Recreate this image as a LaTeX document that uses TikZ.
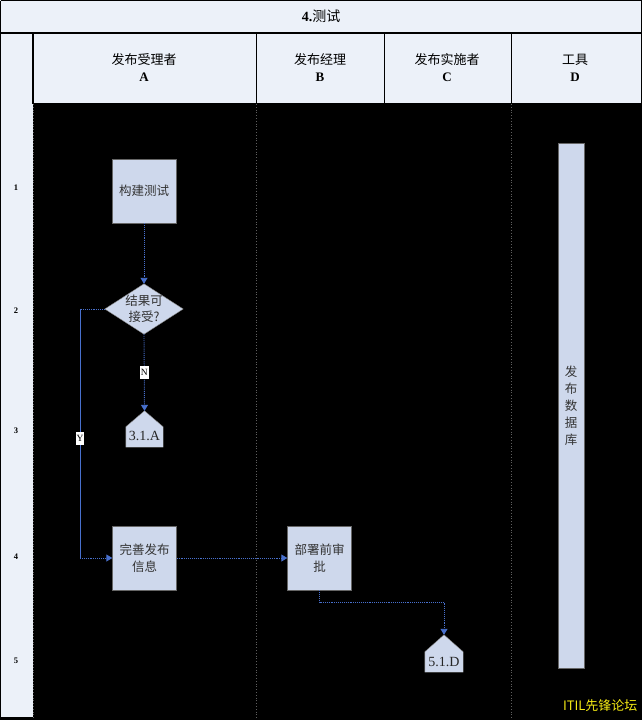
\documentclass[tikz,border=0pt]{standalone}
\usepackage{fontspec}
\setmainfont{Liberation Serif}
\newfontfamily\cjk{Noto Sans CJK SC}
\usetikzlibrary{arrows.meta}
\definecolor{bgpale}{RGB}{236,241,249}
\definecolor{boxfill}{RGB}{206,216,236}
\definecolor{flowblue}{RGB}{72,112,205}
\definecolor{lanegray}{RGB}{95,95,95}
\definecolor{wmyellow}{RGB}{245,235,20}
\begin{document}
\begin{tikzpicture}[x=1pt,y=-1pt,
  procbox/.style={draw=black!60, fill=boxfill, minimum width=64pt, minimum height=64pt,
    inner sep=0pt, align=center, font=\cjk\fontsize{12.5}{17}\selectfont, text=black!80},
  pentfill/.style={fill=boxfill, draw=black!50, line width=0.4pt},
  flow/.style={draw=flowblue, densely dotted, line width=0.9pt, -{Triangle[width=7pt,length=6pt]}},
  flowline/.style={draw=flowblue, densely dotted, line width=0.9pt},
  flowlabel/.style={fill=white, inner sep=1pt, minimum height=13pt, font=\fontsize{9.5}{10}\selectfont, text=black},
  headtxt/.style={align=center, font=\fontsize{13}{17}\selectfont},
  rowtxt/.style={font=\bfseries\fontsize{8.5}{9}\selectfont},
  lanedot/.style={draw=lanegray, dotted, line width=0.8pt},
  frame/.style={draw=black, line width=1.2pt}]
\useasboundingbox (0,0) rectangle (642,720);
% backgrounds
\fill[black] (0,0) rectangle (642,720);
\fill[bgpale] (0,0) rectangle (642,104);
\fill[bgpale] (0,0) rectangle (33,718);
% frame lines
\draw[frame] (0.6,0.6) -- (641.4,0.6) -- (641.4,104);
\draw[frame] (0.6,0.6) -- (0.6,718) -- (33,718);
\draw[frame] (0,33) -- (642,33);
\draw[frame] (33,104) -- (642,104);
\draw[frame] (33,33) -- (33,104);
\draw[line width=0.9pt] (256,33) -- (256,104);
\draw[line width=0.9pt] (384,33) -- (384,104);
\draw[line width=0.9pt] (511,33) -- (511,104);
% lane lines in body
\draw[lanedot] (33,104) -- (33,718);
\draw[lanedot] (256,104) -- (256,720);
\draw[lanedot] (511,104) -- (511,720);
% title and headers
\node[font=\bfseries\fontsize{14}{16}\selectfont] (title) at (321,16) {4.{\cjk\mdseries 测试}};
\node[headtxt] (hA) at (144,68) {{\cjk 发布受理者}\\\textbf{A}};
\node[headtxt] (hB) at (320,68) {{\cjk 发布经理}\\\textbf{B}};
\node[headtxt] (hC) at (447,68) {{\cjk 发布实施者}\\\textbf{C}};
\node[headtxt] (hD) at (575,68) {{\cjk 工具}\\\textbf{D}};
% row numbers
\node[rowtxt] (r1) at (16,188) {1};
\node[rowtxt] (r2) at (16,311) {2};
\node[rowtxt] (r3) at (16,431) {3};
\node[rowtxt] (r4) at (16,557) {4};
\node[rowtxt] (r5) at (16,661) {5};
% tool bar
\node[draw=black!60, fill=boxfill, minimum width=26pt, minimum height=525pt, inner sep=0pt,
  font=\cjk\fontsize{12.5}{17}\selectfont, text=black!80, align=center] (db) at (571,405.5)
  {发\\布\\数\\据\\库};
% process boxes
\node[procbox] (build) at (144,191) {构建测试};
\node[procbox] (refine) at (144.5,558) {完善发布\\信息};
\node[procbox] (approve) at (319.5,558) {部署前审\\批};
% decision diamond
\node[inner sep=0pt, minimum width=78pt, minimum height=50pt] (dec) at (144,309) {};
\fill[boxfill, draw=black!50, line width=0.4pt] (dec.north) -- (dec.east) -- (dec.south) -- (dec.west) -- cycle;
\node[align=center, font=\cjk\fontsize{12.5}{16}\selectfont, text=black!80] (dectxt) at (dec.center) {结果可\\接受?};
% off-page connectors (pentagons)
\node[inner sep=0pt, minimum width=37pt, minimum height=36pt] (p31) at (144.5,429) {};
\fill[pentfill] (p31.north) -- ([yshift=-16pt]p31.north east) -- (p31.south east) -- (p31.south west) -- ([yshift=-16pt]p31.north west) -- cycle;
\node[font=\fontsize{14}{15}\selectfont, text=black!85] (p31t) at ([yshift=-7pt]p31.center) {3.1.A};
\node[inner sep=0pt, minimum width=38pt, minimum height=37pt] (p51) at (444,653.5) {};
\fill[pentfill] (p51.north) -- ([yshift=-17pt]p51.north east) -- (p51.south east) -- (p51.south west) -- ([yshift=-17pt]p51.north west) -- cycle;
\node[font=\fontsize{14}{15}\selectfont, text=black!85] (p51t) at ([yshift=-8pt]p51.center) {5.1.D};
% connectors
\coordinate (ybend1) at (80,309);
\coordinate (ybend2) at (80,558);
\coordinate (abend1) at (319.5,602);
\coordinate (abend2) at (444,602);
\draw[flow] (build.south) -- (dec.north);
\draw[flow] (dec.south) -- node[flowlabel, pos=0.5] (nlab) {N} (p31.north);
\draw[flowline] (dec.west) -- (ybend1);
\draw[flowblue, line width=0.9pt] (ybend1) -- node[flowlabel, pos=0.52] (ylab) {Y} (ybend2);
\draw[flow] (ybend2) -- (refine.west);
\draw[flow] (refine.east) -- (approve.west);
\draw[flow] (approve.south) -- (abend1) -- (abend2) -- (p51.north);
% watermark
\node[font=\cjk\fontsize{13}{15}\selectfont, text=wmyellow, anchor=east] (wm) at (641,706) {ITIL先锋论坛};
\end{tikzpicture}
\end{document}
